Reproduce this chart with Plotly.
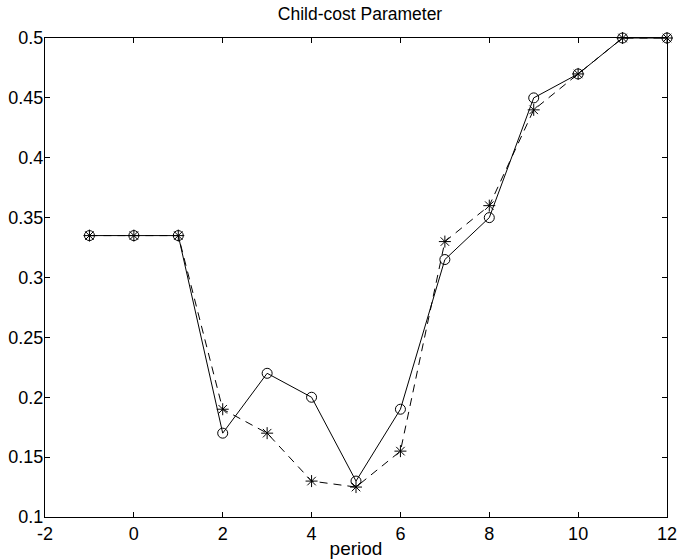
import plotly.graph_objects as go

# Period index and the two child-cost parameter paths
periods = [-1, 0, 1, 2, 3, 4, 5, 6, 7, 8, 9, 10, 11, 12]
solid_circle = [0.335, 0.335, 0.335, 0.17, 0.22, 0.20, 0.13, 0.19, 0.315, 0.35, 0.45, 0.47, 0.50, 0.50]
dashed_star = [0.335, 0.335, 0.335, 0.19, 0.17, 0.13, 0.125, 0.155, 0.33, 0.36, 0.44, 0.47, 0.50, 0.50]

x_ticks = [-2, 0, 2, 4, 6, 8, 10, 12]
y_ticks = [0.1, 0.15, 0.2, 0.25, 0.3, 0.35, 0.4, 0.45, 0.5]
y_tick_text = ["0.1", "0.15", "0.2", "0.25", "0.3", "0.35", "0.4", "0.45", "0.5"]

FONT = "Liberation Sans, Arial, sans-serif"

fig = go.Figure()
fig.add_trace(go.Scatter(
    x=periods, y=solid_circle, mode="lines+markers",
    line=dict(color="black", width=1),
    marker=dict(symbol="circle-open", size=10, color="black", line=dict(width=1)),
    cliponaxis=False, showlegend=False,
))
fig.add_trace(go.Scatter(
    x=periods, y=dashed_star, mode="lines+markers",
    line=dict(color="black", width=1, dash="8px,6px"),
    marker=dict(symbol="asterisk-open", size=10, color="black", line=dict(width=1, color="black")),
    cliponaxis=False, showlegend=False,
))

axis_common = dict(
    showgrid=False, zeroline=False, showline=True, linecolor="black", linewidth=1,
    mirror="ticks", ticks="inside", ticklen=5, tickcolor="black", automargin=False,
    tickfont=dict(family=FONT, size=18, color="black"),
)

fig.update_layout(
    width=678, height=559,
    margin=dict(l=45, r=11, t=38, b=42),
    paper_bgcolor="white", plot_bgcolor="white",
    title=dict(text="Child-cost Parameter", x=0.531, xanchor="center", y=0.975, yanchor="middle",
               font=dict(family=FONT, size=17.5, color="black")),
    xaxis=dict(range=[-2, 12], tickvals=x_ticks, ticktext=[str(v) for v in x_ticks],
               title=dict(text="period", standoff=0, font=dict(family=FONT, size=19, color="black")),
               ticklabelstandoff=0, **axis_common),
    yaxis=dict(range=[0.1, 0.5], tickvals=y_ticks, ticktext=y_tick_text,
               ticklabelstandoff=-3, **axis_common),
)

fig.write_html("out.html")
